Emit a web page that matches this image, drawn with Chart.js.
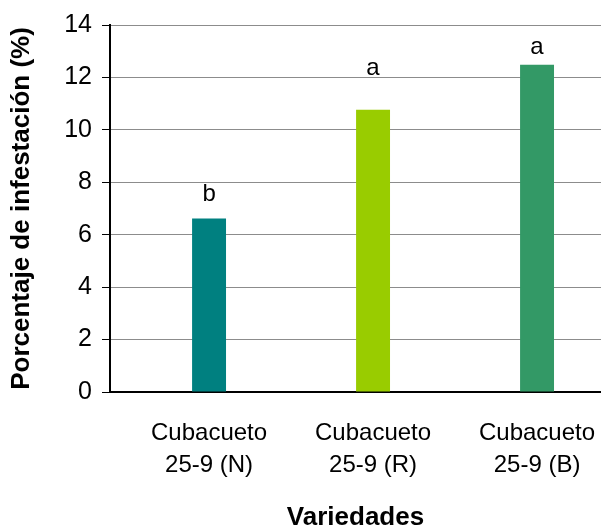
<!DOCTYPE html>
<html>
<head>
<meta charset="utf-8">
<script src="https://cdn.jsdelivr.net/npm/chart.js@4.4.1/dist/chart.umd.min.js"></script>
<style>
  body { margin: 0; background: #fff; }
  #wrap { width: 601px; height: 527px; }
</style>
</head>
<body>
<div id="wrap"><canvas id="infChart" width="601" height="527"></canvas></div>
<script>
// --- data ---
const categories = ['Cubacueto\n25-9 (N)', 'Cubacueto\n25-9 (R)', 'Cubacueto\n25-9 (B)'];
const infestacion = [6.62, 10.77, 12.48];
const barColors = ['#008080', '#99CC00', '#339966'];
const letters = ['b', 'a', 'a'];
const letterPos = [7.55, 12.35, 13.15];   // y value where each letter sits
const yTicks = [0, 2, 4, 6, 8, 10, 12, 14];

const FONT = '"Liberation Sans", Arial, sans-serif';

// letters above the bars (significance)
const letterPlugin = {
  id: 'letters',
  afterDatasetsDraw(chart) {
    const ctx = chart.ctx;
    const meta = chart.getDatasetMeta(0);
    const y = chart.scales.y;
    ctx.save();
    ctx.font = '24px ' + FONT;
    ctx.fillStyle = '#000';
    ctx.textAlign = 'center';
    ctx.textBaseline = 'middle';
    meta.data.forEach((bar, i) => {
      ctx.fillText(letters[i], bar.x, y.getPixelForValue(letterPos[i]));
    });
    ctx.restore();
  }
};

// x is a linear index axis so the plot can run past the right edge like the original
const points = infestacion.map((v, i) => ({ x: i, y: v }));

const ctx = document.getElementById('infChart').getContext('2d');
const chart = new Chart(ctx, {
  type: 'bar',
  data: {
    datasets: [{
      data: points,
      backgroundColor: barColors,
      borderWidth: 0,
      categoryPercentage: 1,
      barPercentage: 0.207
    }]
  },
  options: {
    responsive: false,
    animation: false,
    layout: { padding: { top: 25, right: 0, left: 0, bottom: 0 } },
    plugins: {
      legend: { display: false },
      tooltip: { enabled: false }
    },
    scales: {
      y: {
        min: 0,
        max: 14,
        afterBuildTicks: s => { s.ticks = yTicks.map(v => ({ value: v })); },
        afterFit: s => { s.width = 110; },
        ticks: {
          color: '#000',
          padding: 10,
          font: { family: FONT, size: 25 }
        },
        grid: { color: '#8c8c8c', lineWidth: 1, tickLength: 8, tickColor: '#000' },
        border: { color: '#000', width: 2 },
        title: {
          display: true,
          text: 'Porcentaje de infestación (%)',
          color: '#000',
          padding: { top: 6, bottom: 0 },
          font: { family: FONT, size: 26, weight: 'bold' }
        }
      },
      x: {
        type: 'linear',
        offset: false,
        grace: 0,
        min: -0.604,
        max: 2.39,
        afterBuildTicks: s => { s.ticks = categories.map((c, i) => ({ value: i })); },
        afterFit: s => { s.height = 135; s.paddingLeft = 0; s.paddingRight = 0; },
        ticks: {
          color: '#000',
          padding: 17,
          callback: v => categories[v].split('\n'),
          font: { family: FONT, size: 24, lineHeight: 1.33 }
        },
        grid: { display: false },
        border: { color: '#000', width: 2 },
        title: {
          display: true,
          text: 'Variedades',
          color: '#000',
          padding: { top: 0, bottom: 0 },
          font: { family: FONT, size: 26, weight: 'bold', lineHeight: 0.7 }
        }
      }
    }
  },
  plugins: [letterPlugin]
});
</script>
</body>
</html>
